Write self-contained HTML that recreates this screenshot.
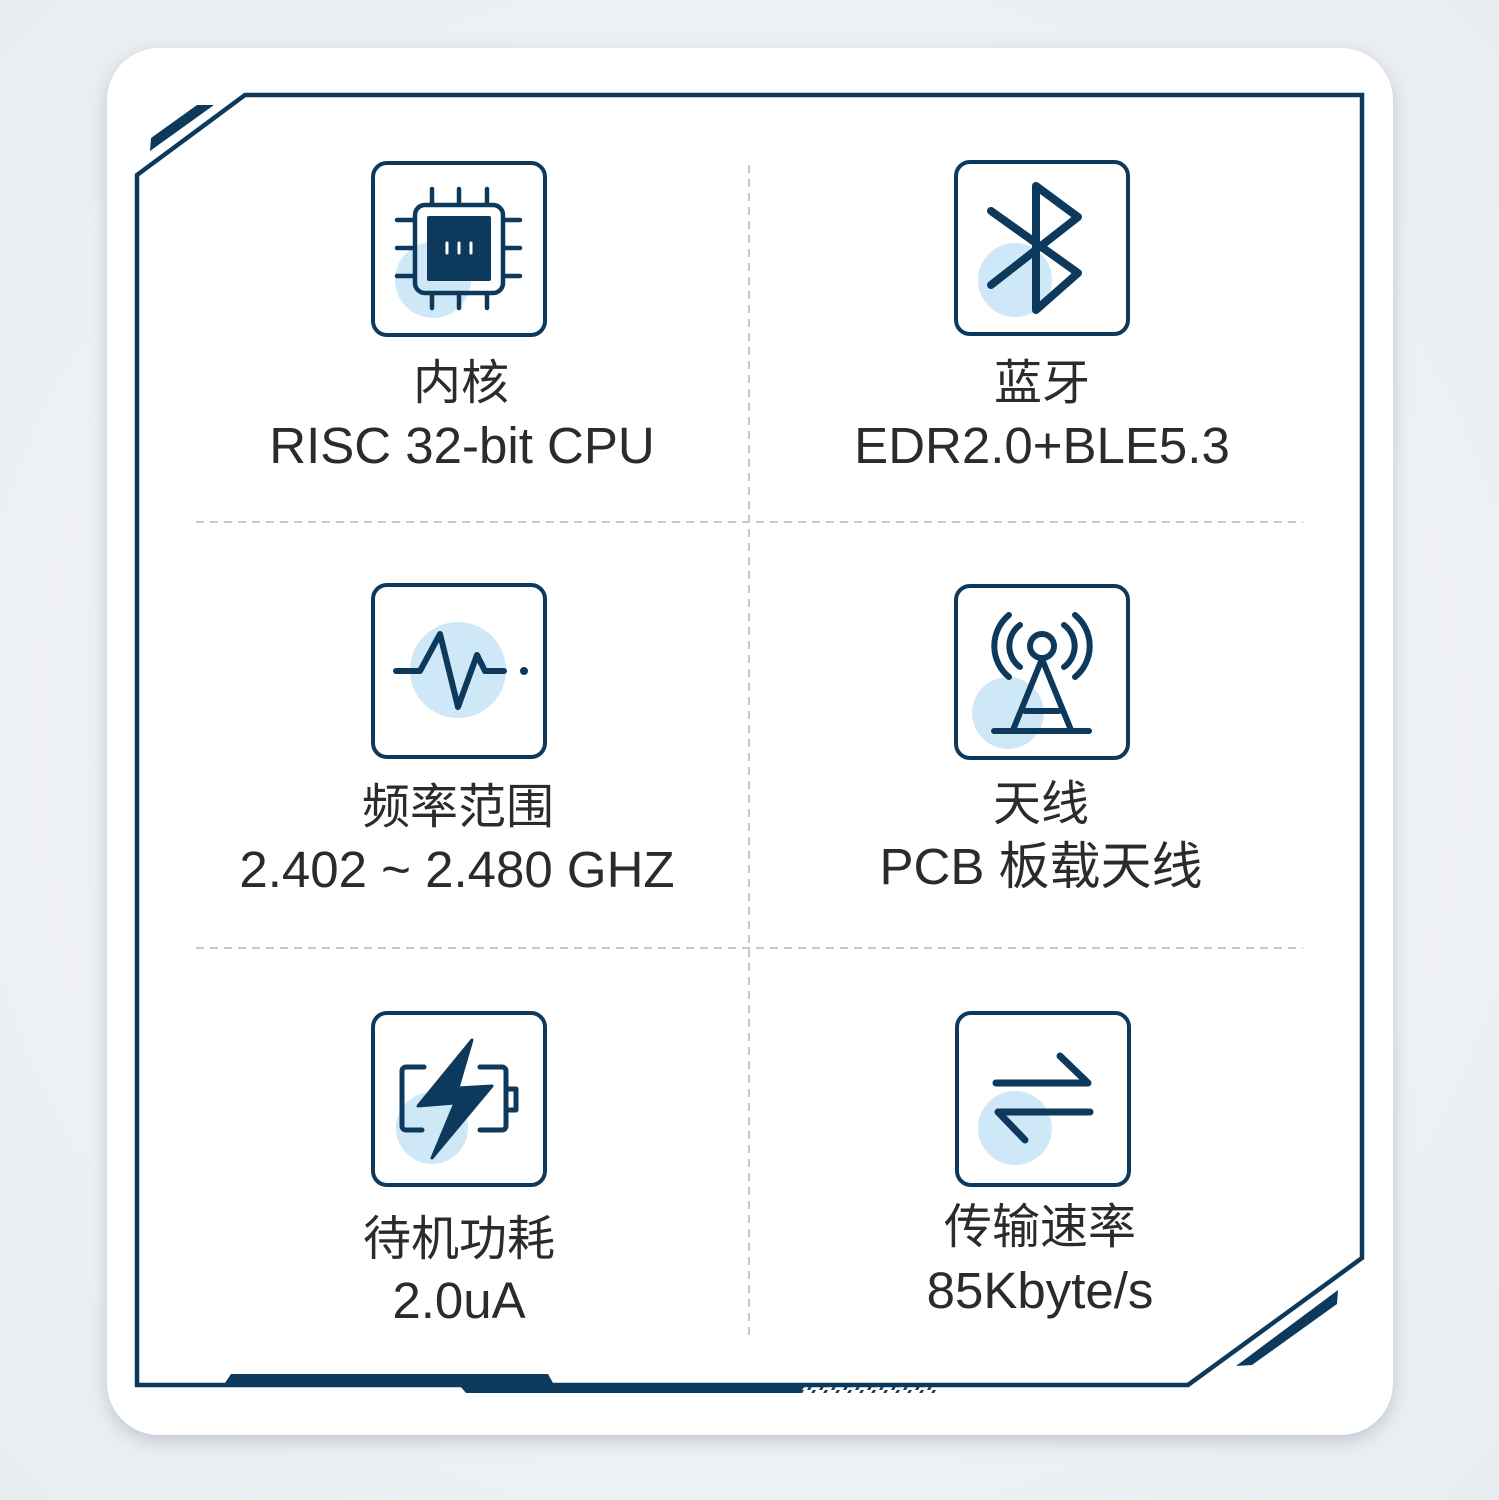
<!DOCTYPE html>
<html><head><meta charset="utf-8"><style>
html,body{margin:0;padding:0;width:1499px;height:1500px;overflow:hidden;background:#eef1f4;}
svg{display:block}
</style></head><body>
<svg width="1499" height="1500" viewBox="0 0 1499 1500" xmlns="http://www.w3.org/2000/svg">
<defs>
<radialGradient id="bg" cx="0.5" cy="0.5" r="0.7"><stop offset="0" stop-color="#f7f8fa"/><stop offset="1" stop-color="#e9edf1"/></radialGradient>
<filter id="sh" x="-10%" y="-10%" width="120%" height="120%"><feDropShadow dx="0" dy="6" stdDeviation="9" flood-color="#8a97a3" flood-opacity="0.45"/></filter>
<pattern id="hatch" width="12" height="10" patternUnits="userSpaceOnUse"><rect width="12" height="10" fill="#fff"/><polygon points="3,10 9,0 12,0 6,10" fill="#0d3a5c"/></pattern>
</defs>
<rect width="1499" height="1500" fill="url(#bg)"/>
<rect x="107" y="48" width="1286" height="1387" rx="52" fill="#fff" filter="url(#sh)"/>

<g fill="#0d3a5c">
<polygon points="150,151 151,138 197,105 214,105"/>
<polygon points="1236,1366 1252,1365 1337,1304 1338,1290"/>
<polygon points="225,1383 231,1374 548,1374 553,1383"/>
<polygon points="460,1386 805,1386 800,1393 466,1393"/>
<polygon points="805,1386 940,1386 936,1393 800,1393" fill="url(#hatch)"/>
</g>
<polygon points="137,175 245,95 1362,95 1362,1258 1188,1385 137,1385" fill="none" stroke="#0d3a5c" stroke-width="4.5"/>

<g stroke="#c9c9c9" stroke-width="2" stroke-dasharray="8,6">
<line x1="749" y1="165" x2="749" y2="1340"/>
<line x1="196" y1="522" x2="1303" y2="522"/>
<line x1="196" y1="948" x2="1303" y2="948"/>
</g>

<g fill="none" stroke="#0d3a5c" stroke-width="4">
<rect x="373" y="163" width="172" height="172" rx="14"/>
<rect x="956" y="162" width="172" height="172" rx="14"/>
<rect x="373" y="585" width="172" height="172" rx="14"/>
<rect x="956" y="586" width="172" height="172" rx="14"/>
<rect x="373" y="1013" width="172" height="172" rx="14"/>
<rect x="957" y="1013" width="172" height="172" rx="14"/>
</g>

<g fill="#cfe8f7">
<circle cx="433" cy="280" r="38"/>
<circle cx="1015" cy="280" r="37"/>
<circle cx="458" cy="670" r="48"/>
<circle cx="1008" cy="713" r="36"/>
<circle cx="432" cy="1128" r="36"/>
<circle cx="1015" cy="1128" r="37"/>
</g>

<g stroke="#0d3a5c" stroke-width="4.5" stroke-linecap="round" fill="none">
<rect x="415" y="205" width="88" height="88" rx="10"/>
<path d="M432 189v14M459 189v14M487 189v14M432 295v13M459 295v13M487 295v13M397 220h16M397 248h16M397 276h16M505 220h15M505 248h15M505 276h15"/>
</g>
<rect x="427" y="216" width="64" height="65" rx="2" fill="#0d3a5c"/>
<g stroke="#fff" stroke-width="3" stroke-linecap="round"><path d="M447 243v10M459 243v10M471 243v10"/></g>

<g stroke="#0d3a5c" stroke-width="8" stroke-linecap="round" stroke-linejoin="round" fill="none">
<polyline points="991,211 1078,273 1036,310 1036,186 1078,217 991,285"/>
</g>

<g stroke="#0d3a5c" stroke-width="6" stroke-linecap="round" stroke-linejoin="round" fill="none">
<polyline points="396,671 420,671 440,634 458,707 477,655 485,671 504,671"/>
</g>
<circle cx="524" cy="671" r="4" fill="#0d3a5c"/>

<g stroke="#0d3a5c" stroke-width="6" stroke-linecap="round" fill="none">
<circle cx="1042" cy="646" r="12"/>
<path d="M1009 615 A40 40 0 0 0 1009 677M1075 615 A40 40 0 0 1 1075 677M1020 625 A26 26 0 0 0 1020 667M1064 625 A26 26 0 0 1 1064 667"/>
<path d="M1042 659 L1013 730M1042 659 L1071 730M1025 711h34M994 731h95"/>
</g>

<g stroke="#0d3a5c" stroke-width="5" stroke-linecap="round" stroke-linejoin="round" fill="none">
<path d="M424 1067h-18a4 4 0 0 0 -4 4v55a4 4 0 0 0 4 4h16M480 1067h22a4 4 0 0 1 4 4v55a4 4 0 0 1 -4 4h-22M507 1089h9v21h-9"/>
</g>
<polygon points="472,1040 418,1106 455,1103 432,1158 492,1086 458,1088" fill="#0d3a5c" stroke="#0d3a5c" stroke-width="3" stroke-linejoin="round"/>

<g stroke="#0d3a5c" stroke-width="7" stroke-linecap="round" stroke-linejoin="round" fill="none">
<path d="M996 1083h92l-28-27M1090 1112h-92l27 28"/>
</g>

<g font-family="'Liberation Sans','Noto Sans CJK SC',sans-serif" fill="#2b2b2b" text-anchor="middle">
<g font-size="48">
<text x="461" y="399">内核</text>
<text x="1042" y="399">蓝牙</text>
<text x="458" y="823">频率范围</text>
<text x="1041" y="820">天线</text>
<text x="459" y="1255">待机功耗</text>
<text x="1040" y="1243">传输速率</text>
</g>
<g font-size="51">
<text x="462" y="463">RISC 32-bit CPU</text>
<text x="1042" y="463">EDR2.0+BLE5.3</text>
<text x="457" y="887">2.402 ~ 2.480 GHZ</text>
<text x="1041" y="884">PCB 板载天线</text>
<text x="459" y="1318">2.0uA</text>
<text x="1040" y="1308">85Kbyte/s</text>
</g>
</g>
</svg>
</body></html>
